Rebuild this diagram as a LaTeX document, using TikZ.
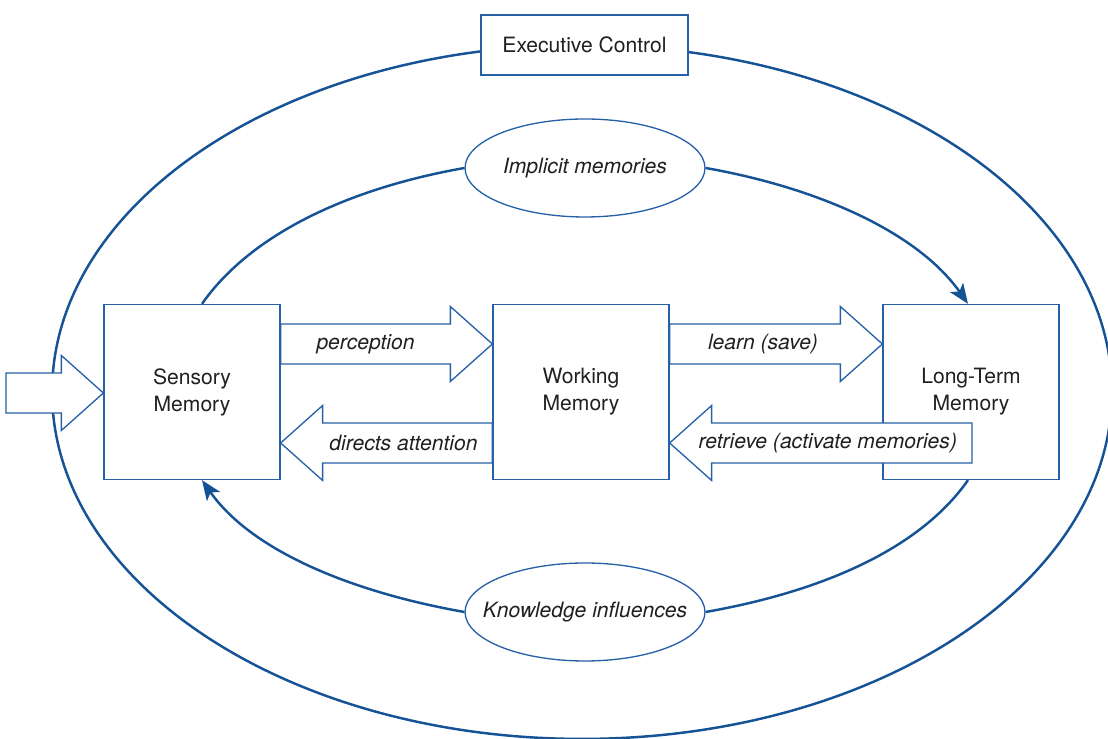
\documentclass[tikz,border=0pt]{standalone}
\usepackage{fontspec}
\setmainfont{TeX Gyre Heros}
\usepackage{tikz}
\usetikzlibrary{arrows.meta,positioning,shapes.geometric,calc}
\definecolor{memblue}{RGB}{22,82,150}
\definecolor{boxblue}{RGB}{38,96,166}
\definecolor{txtgray}{RGB}{35,31,32}

% hollow block arrow: [label opts]{tail}{tip}{name}{label}
\newcommand{\fatarrow}[5][]{%
  \draw[blockarrow] let \p1=(#2), \p2=(#3), \n1={(\x2>\x1) ? 1 : -1} in
    (\x1,{\y1+0.4cm}) -- ({\x2-(\n1)*0.84cm},{\y1+0.4cm})
    -- ({\x2-(\n1)*0.84cm},{\y1+0.75cm}) -- (\x2,\y1)
    -- ({\x2-(\n1)*0.84cm},{\y1-0.75cm}) -- ({\x2-(\n1)*0.84cm},{\y1-0.4cm})
    -- (\x1,{\y1-0.4cm}) -- cycle
    node[lbl,#1] (#4) at ({(\x1+\x2-(\n1)*0.84cm)/2},\y1) {#5};}

\begin{document}
\begin{tikzpicture}[x=0.02cm,y=0.02cm,
    every node/.style={text=txtgray,font=\fontsize{12}{15.3}\selectfont},
    box/.style={draw=boxblue,line width=0.75pt,fill=white,align=center,
                minimum width=3.52cm,minimum height=3.5cm},
    exec/.style={draw=boxblue,line width=0.75pt,fill=white,
                 minimum width=4.14cm,minimum height=1.2cm},
    oval/.style={ellipse,draw=boxblue,line width=0.75pt,fill=white,
                 inner xsep=-0.4cm,inner ysep=0pt,
                 minimum width=4.8cm,minimum height=1.96cm,
                 font=\fontsize{12}{15.3}\selectfont\itshape},
    loop/.style={draw=memblue,line width=1.4pt},
    flow/.style={loop,-{Stealth[length=0.4cm,width=0.32cm,inset=0.1cm]}},
    blockarrow/.style={draw=boxblue,line width=0.75pt,fill=white,line join=miter},
    lbl/.style={inner sep=0pt,font=\fontsize{12}{15.3}\selectfont\itshape}]
  \useasboundingbox (0,0) rectangle (1108,739);
  \clip (0,0) rectangle (1108,739);

  % outer loop
  \draw[loop] (582,347) ellipse [x radius=10.6cm, y radius=6.94cm];
  \node[exec] (exec) at (584.5,694) {Executive Control};

  % the three stores
  \node[box] (sm) at (192,347) {Sensory\\Memory};
  \node[box] (wm) at (581,347) {Working\\Memory};
  \node[box] (ltm) at (971,347) {Long-Term\\Memory};

  % inner loop
  \node[oval] (imp) at (585,571) {Implicit memories};
  \node[oval] (know) at (585,127) {Knowledge influences};
  \draw[loop] ([xshift=0.2cm]sm.north) to[out=55,in=190,out looseness=0.75] (imp.west);
  \draw[flow] (imp.east) to[out=-10,in=125,in looseness=0.75] ([xshift=-0.06cm]ltm.north);
  \draw[loop] ([xshift=-0.06cm]ltm.south) to[out=235,in=10,out looseness=0.75] (know.east);
  \draw[flow] (know.west) to[out=170,in=-55,in looseness=0.75] ([xshift=0.2cm]sm.south);

  % block arrows
  \coordinate (src) at (6,346);
  \fatarrow{src}{[yshift=-0.02cm]sm.west}{in}{}
  \fatarrow{[yshift=0.96cm]sm.east}{[yshift=0.96cm]wm.west}{perc}{perception}
  \fatarrow[xshift=-0.08cm]{[yshift=-1.02cm]wm.west}{[yshift=-1.02cm]sm.east}{attn}{directs attention}
  \fatarrow[xshift=0.16cm]{[yshift=0.96cm]wm.east}{[yshift=0.96cm]ltm.west}{learn}{learn (save)}
  \fatarrow[xshift=-0.28cm]{[yshift=-1.02cm,xshift=0.02cm]ltm.center}{[yshift=-1.02cm]wm.east}{retr}{retrieve (activate memories)}
\end{tikzpicture}
\end{document}
